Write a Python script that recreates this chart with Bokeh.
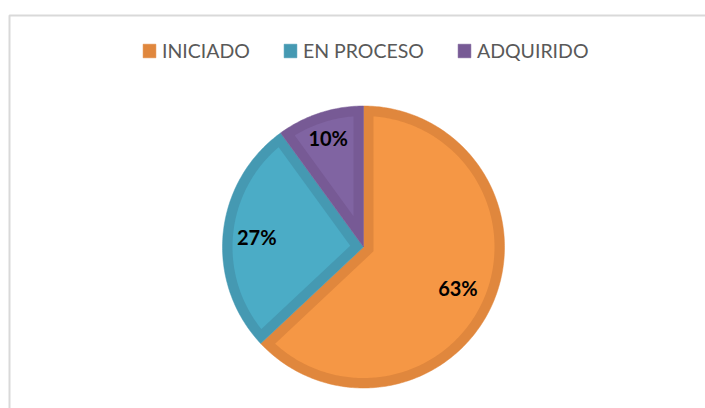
import numpy as np
from bokeh.plotting import figure
from bokeh.models import Range1d, Legend, LegendItem, ColumnDataSource
from bokeh.core.properties import value
from bokeh.embed import file_html
from bokeh.resources import INLINE

# ---- data ----
categories = ["INICIADO", "EN PROCESO", "ADQUIRIDO"]
percentages = [63, 27, 10]
labels = ["63%", "27%", "10%"]

# ---- style ----
fill_colors = ["#F59745", "#4BACC6", "#8064A2"]
edge_colors = ["#E0873D", "#4599B2", "#775A95"]

W, H = 705, 408
CX, CY, R = 363, 246.5, 141
BORDER = 10
LABEL_R = [0.73, 0.76, 0.81]

p = figure(width=W, height=H, x_range=Range1d(0, W), y_range=Range1d(H, 0),
           output_backend="svg", toolbar_location=None, min_border=0)
p.axis.visible = False
p.grid.visible = False
p.outline_line_color = None
p.background_fill_color = "white"
p.border_fill_color = "white"

# chart-area frame (decoration)
p.quad(left=9, right=W + 20, top=15, bottom=H + 20, fill_color=None,
       line_color="#D9D9D9", line_width=2)


def pt(r, a, cx=CX, cy=CY):
    return cx + r * np.sin(a), cy - r * np.cos(a)


total = float(sum(percentages))
fracs = [v / total for v in percentages]
starts = np.concatenate([[0.0], np.cumsum(fracs)[:-1]]) * 2 * np.pi
ends = np.cumsum(fracs) * 2 * np.pi

items = []
for i, cat in enumerate(categories):
    a0, a1 = starts[i], ends[i]
    theta = a1 - a0
    n = max(int(400 * fracs[i]), 8)
    # outer wedge (border colour)
    arc = np.linspace(a0, a1, n)
    ox, oy = pt(R, arc)
    xs_o = np.concatenate([[CX], ox])
    ys_o = np.concatenate([[CY], oy])
    r_out = p.patch(xs_o, ys_o, fill_color=edge_colors[i], line_color=edge_colors[i], line_width=0.5)
    items.append(LegendItem(label=cat, renderers=[r_out]))
    # inner wedge (inset fill)
    mid = (a0 + a1) / 2
    shift = BORDER / np.sin(theta / 2)
    ax_, ay_ = pt(shift, mid)
    delta = np.arcsin(BORDER / (R - BORDER))
    arc_i = np.linspace(a0 + delta, a1 - delta, n)
    ix, iy = pt(R - BORDER, arc_i)
    xs_i = np.concatenate([[ax_], ix])
    ys_i = np.concatenate([[ay_], iy])
    p.patch(xs_i, ys_i, fill_color=fill_colors[i], line_color=None)

# data labels
lx, ly = [], []
for i in range(len(categories)):
    mid = (starts[i] + ends[i]) / 2
    x, y = pt(R * LABEL_R[i], mid)
    lx.append(x)
    ly.append(y)
src = ColumnDataSource(dict(x=lx, y=ly, t=labels))
p.text(x="x", y="y", text="t", source=src, text_font=value("Lato"),
       text_font_style="bold", text_font_size="20px", text_color="black",
       text_align="center", text_baseline="middle")

legend = Legend(items=items, orientation="horizontal", location=(141, 346),
                glyph_width=16, glyph_height=17, label_standoff=5, spacing=32,
                padding=0, margin=0, border_line_color=None,
                background_fill_alpha=0, label_text_font="Lato",
                label_text_font_size="19.5px", label_text_color="#595959",
                label_height=17)
p.add_layout(legend, "center")

open("out.html", "w").write(file_html(p, INLINE))
